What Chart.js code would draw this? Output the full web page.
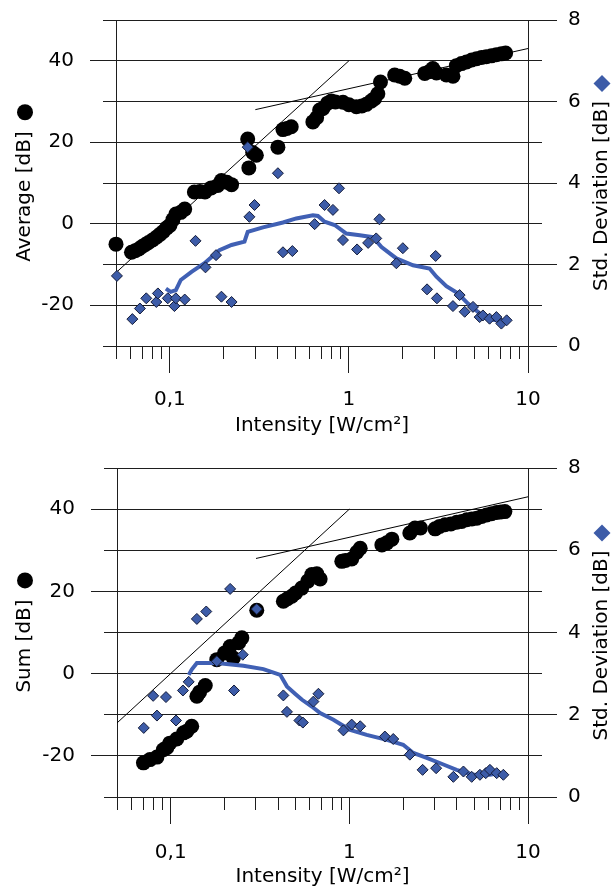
<!DOCTYPE html>
<html>
<head>
<meta charset="utf-8">
<title>Average / Sum vs Intensity</title>
<script src="https://cdn.jsdelivr.net/npm/chart.js@4.4.1/dist/chart.umd.min.js"></script>
<style>
  html, body { margin: 0; padding: 0; background: #fff; }
  .panel { width: 614px; height: 445px; }
</style>
</head>
<body>
<div class="panel"><canvas id="chartAverage" width="614" height="445"></canvas></div>
<div class="panel"><canvas id="chartSum" width="614" height="445"></canvas></div>
<script>
// ---- axis ticks ----
const xTickValues = [0.05, 0.06, 0.07, 0.08, 0.09, 0.1, 0.2, 0.3, 0.4, 0.5, 0.6, 0.7, 0.8, 0.9, 1, 2, 3, 4, 5, 6, 7, 8, 9, 10];
const xTickLabels = { 0.1: "0,1", 1: "1", 10: "10" };
const leftTickLabels = [-20, 0, 20, 40];

// ---- thin reference lines (same in both panels) ----
const steepLineX = [0.05, 1];
const steepLineY = [-12, 40];
const flatLineX = [0.3, 10];
const flatLineY = [28, 43];

// ---- top panel: Average ----
const avgIntensity = [0.050, 0.061, 0.064, 0.067, 0.070, 0.073, 0.076, 0.080, 0.084, 0.088, 0.092, 0.096, 0.100, 0.104, 0.108, 0.115, 0.121, 0.137, 0.147, 0.157, 0.170, 0.185, 0.194, 0.208, 0.221, 0.272, 0.276, 0.290, 0.304, 0.401, 0.428, 0.450, 0.476, 0.629, 0.660, 0.686, 0.716, 0.760, 0.797, 0.840, 0.926, 1.00, 1.10, 1.18, 1.25, 1.33, 1.39, 1.45, 1.50, 1.80, 1.92, 2.05, 2.65, 2.80, 2.94, 3.08, 3.50, 3.81, 3.98, 4.25, 4.53, 4.85, 5.16, 5.50, 5.85, 6.25, 6.66, 7.10, 7.50];
const avgLevel = [-5.0, -7.0, -6.6, -6.2, -5.6, -5.1, -4.6, -4.0, -3.3, -2.6, -1.9, -1.0, -0.4, 1.0, 2.4, 2.8, 3.6, 7.8, 7.9, 7.8, 8.8, 9.4, 10.6, 10.2, 9.6, 20.8, 13.7, 17.5, 16.8, 18.8, 23.1, 23.4, 23.8, 25.0, 26.0, 27.9, 28.3, 29.6, 30.1, 29.9, 29.8, 29.2, 28.7, 28.9, 29.3, 30.1, 30.7, 31.9, 34.8, 36.5, 36.2, 35.7, 36.9, 37.3, 38.1, 37.0, 36.5, 36.2, 38.8, 39.3, 39.7, 40.2, 40.5, 40.8, 41.0, 41.2, 41.5, 41.7, 41.9];

const avgStdIntensity = [0.0506, 0.0617, 0.068, 0.0738, 0.084, 0.0857, 0.0973, 0.106, 0.108, 0.121, 0.139, 0.158, 0.181, 0.194, 0.221, 0.272, 0.278, 0.297, 0.401, 0.428, 0.483, 0.643, 0.731, 0.814, 0.88, 0.926, 1.11, 1.28, 1.42, 1.48, 1.84, 2.0, 2.73, 3.05, 3.10, 3.81, 4.15, 4.43, 4.93, 5.37, 5.6, 6.1, 6.66, 7.1, 7.6];
const avgStd = [1.72, 0.66, 0.92, 1.17, 1.08, 1.29, 1.17, 0.98, 1.17, 1.14, 2.58, 1.93, 2.23, 1.21, 1.08, 4.88, 3.17, 3.46, 4.24, 2.30, 2.33, 2.99, 3.46, 3.34, 3.87, 2.60, 2.37, 2.53, 2.64, 3.11, 2.03, 2.40, 1.39, 2.21, 1.17, 0.98, 1.25, 0.84, 0.96, 0.71, 0.75, 0.67, 0.71, 0.55, 0.63];

const avgTrendIntensity = [0.095, 0.101, 0.108, 0.115, 0.132, 0.156, 0.189, 0.221, 0.261, 0.272, 0.331, 0.428, 0.508, 0.629, 0.671, 0.731, 0.832, 0.967, 1.15, 1.36, 1.52, 1.84, 2.28, 2.82, 3.08, 3.50, 4.06, 4.62, 5.37, 6.10, 7.25];
const avgTrendStd = [1.41, 1.33, 1.37, 1.62, 1.82, 2.03, 2.35, 2.48, 2.56, 2.80, 2.91, 3.03, 3.13, 3.21, 3.19, 3.05, 2.97, 2.76, 2.72, 2.67, 2.43, 2.15, 1.98, 1.90, 1.70, 1.47, 1.29, 1.04, 0.80, 0.65, 0.62];

// ---- bottom panel: Sum ----
const sumIntensity = [0.0703, 0.0765, 0.0837, 0.0908, 0.095, 0.0987, 0.108, 0.118, 0.123, 0.131, 0.140, 0.145, 0.156, 0.181, 0.200, 0.215, 0.224, 0.240, 0.250, 0.303, 0.427, 0.450, 0.476, 0.500, 0.541, 0.585, 0.616, 0.657, 0.686, 0.907, 0.950, 1.03, 1.10, 1.15, 1.52, 1.62, 1.73, 2.18, 2.33, 2.50, 3.02, 3.20, 3.43, 3.70, 3.99, 4.25, 4.54, 4.85, 5.17, 5.50, 5.87, 6.25, 6.68, 7.05, 7.42];
const sumLevel = [-21.7, -20.9, -20.3, -18.5, -18.0, -16.9, -15.9, -14.4, -14.0, -12.8, -5.5, -4.5, -2.9, 3.4, 5.0, 6.6, 3.8, 7.5, 8.7, 15.4, 17.6, 18.2, 18.8, 19.6, 20.8, 22.5, 24.1, 24.3, 23.0, 27.3, 27.5, 27.9, 29.5, 30.5, 31.3, 31.8, 32.7, 34.2, 35.4, 35.4, 35.2, 35.8, 36.2, 36.4, 36.8, 37.0, 37.4, 37.6, 37.8, 38.2, 38.6, 38.9, 39.2, 39.3, 39.4];

const sumStdIntensity = [0.0706, 0.0797, 0.0837, 0.094, 0.107, 0.117, 0.126, 0.140, 0.158, 0.181, 0.215, 0.226, 0.253, 0.303, 0.427, 0.447, 0.525, 0.549, 0.629, 0.671, 0.926, 1.03, 1.15, 1.58, 1.76, 2.18, 2.57, 3.06, 3.82, 4.35, 4.84, 5.38, 5.80, 6.12, 6.68, 7.28];
const sumStd = [1.68, 2.46, 1.98, 2.43, 1.86, 2.59, 2.80, 4.33, 4.51, 3.30, 5.06, 2.59, 3.46, 4.57, 2.47, 2.07, 1.86, 1.81, 2.32, 2.51, 1.62, 1.76, 1.72, 1.47, 1.41, 1.03, 0.66, 0.70, 0.49, 0.62, 0.49, 0.54, 0.58, 0.66, 0.58, 0.54];

const sumTrendIntensity = [0.126, 0.131, 0.140, 0.181, 0.255, 0.330, 0.410, 0.447, 0.500, 0.541, 0.616, 0.686, 0.814, 1.00, 1.25, 1.62, 2.00, 2.28, 2.71, 3.36, 3.98, 4.94, 6.12, 6.96];
const sumTrendStd = [2.97, 3.10, 3.26, 3.26, 3.19, 3.11, 2.97, 2.69, 2.50, 2.37, 2.20, 2.04, 1.88, 1.64, 1.51, 1.39, 1.27, 1.07, 0.95, 0.79, 0.66, 0.54, 0.54, 0.58];

// ---- styling ----
const FONT_FAMILY = "'DejaVu Sans', sans-serif";
const FONT_SIZE = 20;
const GRID_COLOR = "#1e1e1e";
const DIAMOND_FILL = "#3d5ca8";
const DIAMOND_EDGE = "#141c3a";
const TREND_BLUE = "#4060b4";

Chart.defaults.font.family = FONT_FAMILY;
Chart.defaults.font.size = FONT_SIZE;
Chart.defaults.color = "#000";

const zip = (xs, ys) => xs.map((x, i) => ({ x: x, y: ys[i] }));
const alignPx = p => Math.round(p - 0.5) + 0.5;

// fixed axis box, and no extra room asked for by the tick labels
function fixWidth(w) {
  return s => {
    s.width = w;
    s.paddingTop = 0;
    s.paddingBottom = 0;
  };
}

// side titles read bottom-to-top, centred on the plot, with a marker at the end
function drawSideTitle(ctx, text, cx, cy, marker) {
  ctx.save();
  ctx.font = FONT_SIZE + "px " + FONT_FAMILY;
  const w = ctx.measureText(text).width;
  const r = marker === "circle" ? 8 : 8.5;
  const gap = marker === "circle" ? 11 : 9;
  const total = w + gap + 2 * r;
  ctx.translate(cx, cy + total / 2);
  ctx.rotate(-Math.PI / 2);
  ctx.fillStyle = "#000";
  ctx.textAlign = "left";
  ctx.textBaseline = "middle";
  ctx.fillText(text, 0, 0);
  const m = w + gap + r;
  ctx.beginPath();
  if (marker === "circle") {
    ctx.arc(m, 0, r, 0, Math.PI * 2);
    ctx.fillStyle = "#000";
  } else {
    ctx.moveTo(m - r, 0);
    ctx.lineTo(m, -r);
    ctx.lineTo(m + r, 0);
    ctx.lineTo(m, r);
    ctx.closePath();
    ctx.fillStyle = DIAMOND_FILL;
  }
  ctx.fill();
  ctx.restore();
}

// outer tick marks (long at labelled values) and the two side titles
const panelDecor = {
  id: "panelDecor",
  afterDraw(chart, args, opts) {
    const { ctx, chartArea: a, scales } = chart;
    ctx.save();
    ctx.strokeStyle = GRID_COLOR;
    ctx.lineWidth = 1;
    ctx.beginPath();
    scales.y.ticks.forEach(t => {
      const py = alignPx(scales.y.getPixelForValue(t.value));
      const labelled = leftTickLabels.includes(t.value);
      ctx.moveTo(a.left - (labelled ? 26 : 13), py);
      ctx.lineTo(a.left, py);
      ctx.moveTo(a.right, py);
      ctx.lineTo(a.right + (labelled ? 14 : 29), py);
    });
    scales.x.ticks.forEach(t => {
      const px = alignPx(scales.x.getPixelForValue(t.value));
      const lg = Math.log10(t.value);
      const major = Math.abs(lg - Math.round(lg)) < 1e-6;
      ctx.moveTo(px, a.bottom);
      ctx.lineTo(px, a.bottom + (major ? 27 : 13));
    });
    ctx.stroke();
    ctx.restore();

    const cy = (a.top + a.bottom) / 2;
    drawSideTitle(ctx, opts.leftTitle, 25, cy, "circle");
    drawSideTitle(ctx, "Std. Deviation [dB]", 602, cy, "diamond");
  }
};

function makePanel(canvasId, p) {
  return new Chart(document.getElementById(canvasId), {
    type: "scatter",
    data: {
      datasets: [
        {
          label: p.leftTitle,
          data: zip(p.levelX, p.levelY),
          yAxisID: "y",
          pointStyle: "circle",
          pointRadius: 7.5,
          backgroundColor: "#000",
          borderWidth: 0,
          clip: false,
          order: 4
        },
        {
          label: "steep fit",
          data: zip(steepLineX, steepLineY),
          yAxisID: "y",
          showLine: true,
          borderColor: "#000",
          borderWidth: 1,
          pointRadius: 0,
          order: 3
        },
        {
          label: "flat fit",
          data: zip(flatLineX, flatLineY),
          yAxisID: "y",
          showLine: true,
          borderColor: "#000",
          borderWidth: 1,
          pointRadius: 0,
          order: 3
        },
        {
          label: "Std. Deviation trend",
          data: zip(p.trendX, p.trendY),
          yAxisID: "y2",
          showLine: true,
          borderColor: TREND_BLUE,
          borderWidth: 4,
          pointRadius: 0,
          order: 2
        },
        {
          label: "Std. Deviation [dB]",
          data: zip(p.stdX, p.stdY),
          yAxisID: "y2",
          pointStyle: "rectRot",
          pointRadius: 5.5,
          backgroundColor: DIAMOND_FILL,
          borderColor: DIAMOND_EDGE,
          borderWidth: 1,
          clip: false,
          order: 1
        }
      ]
    },
    options: {
      responsive: false,
      animation: false,
      layout: { padding: { top: p.padTop, left: 0, right: 0, bottom: 0 } },
      plugins: {
        legend: { display: false },
        tooltip: { enabled: false },
        panelDecor: { leftTitle: p.leftTitle }
      },
      scales: {
        x: {
          type: "logarithmic",
          min: 0.05,
          max: 10,
          afterBuildTicks: s => { s.ticks = xTickValues.map(v => ({ value: v })); },
          afterFit: s => {
            s.height = p.xHeight;
            s.paddingLeft = 0;
            s.paddingRight = 0;
          },
          grid: { display: false, drawTicks: false },
          border: { display: false },
          ticks: {
            autoSkip: false,
            maxRotation: 0,
            padding: p.xTickPad,
            callback: v => xTickLabels[v] || ""
          },
          title: {
            display: true,
            text: "Intensity [W/cm²]",
            padding: { top: 0, bottom: p.xTitlePad }
          }
        },
        y: {
          position: "left",
          min: -30,
          max: 50,
          afterFit: fixWidth(p.leftWidth),
          grid: { color: GRID_COLOR, lineWidth: 1, drawTicks: false },
          border: { color: GRID_COLOR, width: 1 },
          ticks: {
            stepSize: 10,
            padding: 42,
            callback: v => leftTickLabels.includes(v) ? String(v) : ""
          }
        },
        y2: {
          position: "right",
          min: 0,
          max: 8,
          afterFit: fixWidth(86),
          grid: { drawOnChartArea: false, drawTicks: false },
          border: { color: GRID_COLOR, width: 1 },
          ticks: { stepSize: 2, padding: 40 }
        }
      }
    },
    plugins: [panelDecor]
  });
}

makePanel("chartAverage", {
  leftTitle: "Average [dB]",
  levelX: avgIntensity, levelY: avgLevel,
  stdX: avgStdIntensity, stdY: avgStd,
  trendX: avgTrendIntensity, trendY: avgTrendStd,
  padTop: 20, xHeight: 99, leftWidth: 116, xTickPad: 42, xTitlePad: 7
});

makePanel("chartSum", {
  leftTitle: "Sum [dB]",
  levelX: sumIntensity, levelY: sumLevel,
  stdX: sumStdIntensity, stdY: sumStd,
  trendX: sumTrendIntensity, trendY: sumTrendStd,
  padTop: 23, xHeight: 93, leftWidth: 117, xTickPad: 44, xTitlePad: 1
});
</script>
</body>
</html>
